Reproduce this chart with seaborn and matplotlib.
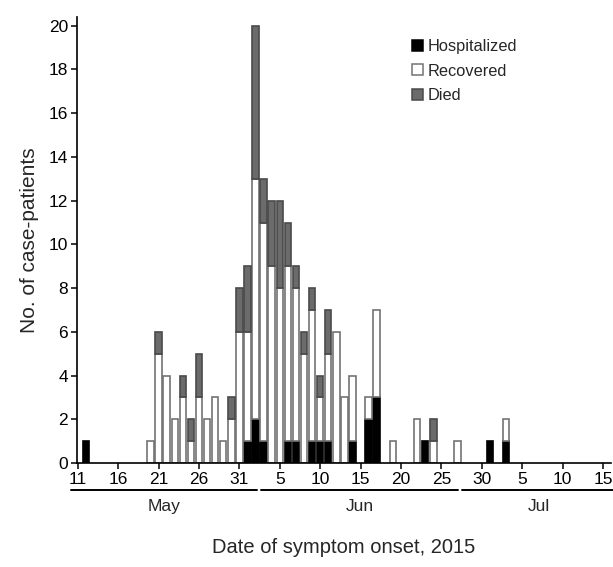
import numpy as np
import pandas as pd
import matplotlib
matplotlib.use("Agg")
import matplotlib.pyplot as plt
import seaborn as sns
from matplotlib.patches import Patch

# Daily counts by outcome
onset_dates = [
    "2015-05-12",
    "2015-05-20", "2015-05-21", "2015-05-22", "2015-05-23", "2015-05-24", "2015-05-25",
    "2015-05-26", "2015-05-27", "2015-05-28", "2015-05-29", "2015-05-30", "2015-05-31",
    "2015-06-01", "2015-06-02", "2015-06-03", "2015-06-04", "2015-06-05", "2015-06-06",
    "2015-06-07", "2015-06-08", "2015-06-09", "2015-06-10", "2015-06-11", "2015-06-12",
    "2015-06-13", "2015-06-14", "2015-06-16", "2015-06-17", "2015-06-19", "2015-06-22",
    "2015-06-23", "2015-06-24", "2015-06-27", "2015-07-01", "2015-07-03",
]
hospitalized = [
    1,
    0, 0, 0, 0, 0, 0,
    0, 0, 0, 0, 0, 0,
    1, 2, 1, 0, 0, 1,
    1, 0, 1, 1, 1, 0,
    0, 1, 2, 3, 0, 0,
    1, 0, 0, 1, 1,
]
recovered = [
    0,
    1, 5, 4, 2, 3, 1,
    3, 2, 3, 1, 2, 6,
    5, 11, 10, 9, 8, 8,
    7, 5, 6, 2, 4, 6,
    3, 3, 1, 4, 1, 2,
    0, 1, 1, 0, 1,
]
died = [
    0,
    0, 1, 0, 0, 1, 1,
    2, 0, 0, 0, 1, 2,
    3, 7, 2, 3, 4, 2,
    1, 1, 1, 1, 2, 0,
    0, 0, 0, 0, 0, 0,
    0, 1, 0, 0, 0,
]
outcomes = ["Hospitalized", "Recovered", "Died"]
months = ["May", "Jun", "Jul"]

start = pd.Timestamp("2015-05-11")
day = (pd.to_datetime(onset_dates) - start).days

df = pd.DataFrame({"day": day, "Hospitalized": hospitalized,
                   "Recovered": recovered, "Died": died})
long_df = df.melt(id_vars="day", var_name="outcome", value_name="count")

fill = {"Hospitalized": "#000000", "Recovered": "#ffffff", "Died": "#6b6b6b"}
edge = {"#000000": "#000000", "#ffffff": "#737373", "#6b6b6b": "#4a4a4a"}

sns.set_style("ticks")
plt.rcParams["font.family"] = ["Liberation Sans", "DejaVu Sans"]

fig = plt.figure(figsize=(6.13, 5.67), dpi=100)
ax = fig.add_axes([77 / 613, 1 - 463 / 567, (611 - 77) / 613, (463 - 17) / 567])

# seaborn stacks the first hue level on top, so reverse for black at bottom
sns.histplot(data=long_df, x="day", weights="count", hue="outcome",
             hue_order=outcomes[::-1], palette=fill, multiple="stack",
             discrete=True, shrink=0.8, alpha=1, linewidth=1.2,
             legend=False, ax=ax)

for p in list(ax.patches):
    if p.get_height() == 0:
        p.remove()
        continue
    fc = matplotlib.colors.to_hex(p.get_facecolor())
    p.set_edgecolor(edge.get(fc, "#737373"))

ax.set_xlim(-0.1, 66.0)
ax.set_ylim(0, 20.4)
ax.set_yticks(np.arange(0, 21, 2))

tick_dates = pd.date_range(start, "2015-07-15", freq="5D")
ax.set_xticks((tick_dates - start).days)
ax.set_xticklabels([str(d.day) for d in tick_dates])

ax.tick_params(axis="both", direction="out", length=4, width=1.1,
               labelsize=12.5, pad=2.5, color="black", labelcolor="black")
for s in ["left", "bottom"]:
    ax.spines[s].set_linewidth(1.2)
    ax.spines[s].set_color("black")
sns.despine(ax=ax)

ax.set_ylabel("No. of case-patients", fontsize=15, labelpad=7)
ax.set_xlabel("Date of symptom onset, 2015", fontsize=14.5, labelpad=37)

# month brackets under the tick labels
spans = [(-0.9, 22.2), (22.7, 47.1), (47.6, 66.6)]
trans = ax.get_xaxis_transform()
for name, (a, b) in zip(months, spans):
    ax.plot([a, b], [-0.061, -0.061], color="black", lw=1.4,
            transform=trans, clip_on=False)
    ax.text((a + b) / 2, -0.098, name, transform=trans, ha="center",
            va="center", fontsize=12.5)

handles = [Patch(facecolor=fill[o], edgecolor=edge[fill[o]], linewidth=1.1)
           for o in outcomes]
ax.legend(handles, outcomes, loc="upper left", frameon=False,
          bbox_to_anchor=(412 / 613, 1 - 39 / 567),
          bbox_transform=fig.transFigure, borderpad=0, borderaxespad=0,
          handlelength=0.65, handleheight=0.65, handletextpad=0.3,
          labelspacing=0.58, fontsize=11.8)

fig.savefig("out.png", dpi=100)
